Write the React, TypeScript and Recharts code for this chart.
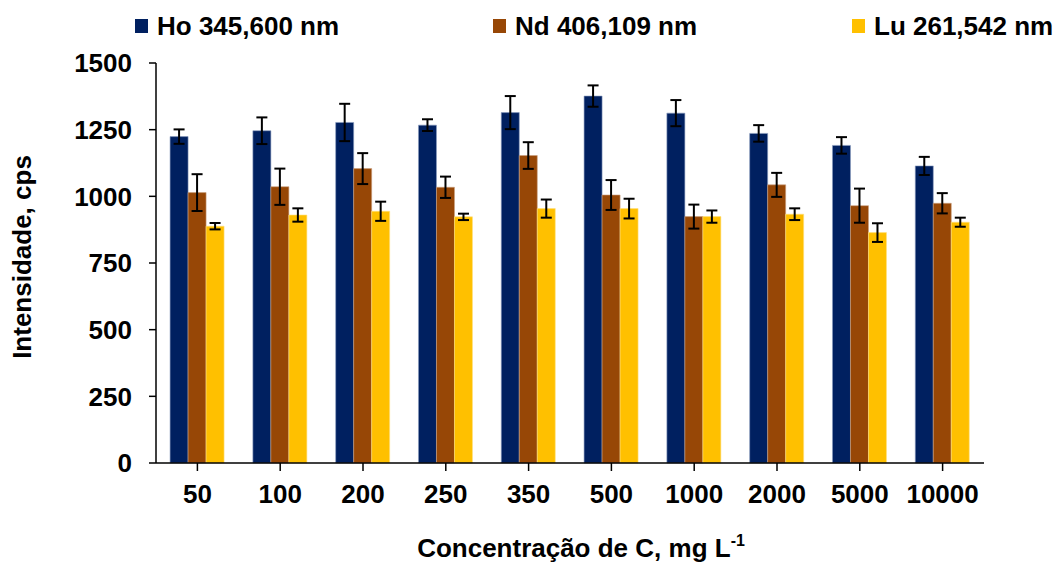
import React from 'react';
import { BarChart, Bar, XAxis, YAxis, ErrorBar, Legend } from 'recharts';

const categories = ['50', '100', '200', '250', '350', '500', '1000', '2000', '5000', '10000'];
const hoValues = [1224, 1246, 1277, 1267, 1314, 1376, 1312, 1236, 1191, 1114];
const hoErrors = [27, 50, 70, 22, 62, 40, 49, 31, 31, 34];
const ndValues = [1014, 1036, 1104, 1034, 1153, 1005, 924, 1043, 965, 974];
const ndErrors = [69, 68, 58, 40, 50, 56, 45, 45, 64, 38];
const luValues = [888, 930, 944, 923, 954, 954, 924, 933, 864, 903];
const luErrors = [12, 25, 36, 12, 34, 37, 23, 22, 35, 17];
const yTicks = [0, 250, 500, 750, 1000, 1250, 1500];

const seriesNames = ['Ho 345,600 nm', 'Nd 406,109 nm', 'Lu 261,542 nm'];
const seriesColors = ['#002060', '#974706', '#FFC000'];

const data = categories.map((c, i) => ({
  cat: c,
  ho: hoValues[i],
  hoErr: hoErrors[i],
  nd: ndValues[i],
  ndErr: ndErrors[i],
  lu: luValues[i],
  luErr: luErrors[i],
}));

const FONT = '"Liberation Sans", Arial, sans-serif';
const legendLefts = [135, 493, 852];

const renderLegend = () => (
  <div style={{ position: 'relative', width: 1054, height: 0, overflow: 'visible', fontFamily: FONT }}>
    {seriesNames.map((n, i) => (
      <div
        key={n}
        style={{
          position: 'absolute',
          left: legendLefts[i],
          top: 0,
          display: 'flex',
          alignItems: 'center',
          whiteSpace: 'nowrap',
        }}
      >
        <span style={{ display: 'inline-block', width: 13, height: 14, background: seriesColors[i], marginRight: 9 }} />
        <span style={{ fontSize: 26, fontWeight: 'bold', color: '#000', lineHeight: '30px' }}>{n}</span>
      </div>
    ))}
  </div>
);

const XTitle = (props: any) => {
  const vb = props.viewBox;
  const x = vb.x + vb.width / 2 + 11;
  const y = vb.y + vb.height - 6;
  return (
    <text x={x} y={y} textAnchor="middle" fontFamily={FONT} fontSize={26} fontWeight="bold" fill="#000">
      <tspan>Concentração de C, mg L</tspan>
      <tspan fontSize={16} dy={-11}>-1</tspan>
    </text>
  );
};

const YTitle = (props: any) => {
  const vb = props.viewBox;
  const x = 31;
  const y = vb.y + vb.height / 2 - 6;
  return (
    <text
      x={x}
      y={y}
      textAnchor="middle"
      fontFamily={FONT}
      fontSize={26}
      fontWeight="bold"
      fill="#000"
      transform={`rotate(-90 ${x} ${y})`}
    >
      Intensidade, cps
    </text>
  );
};

export default function App() {
  return (
    <div style={{ position: 'absolute', left: 0, top: 0, width: 1054, height: 563, background: '#fff' }}>
      <BarChart
        width={1054}
        height={563}
        data={data}
        margin={{ top: 63, right: 70, bottom: 0, left: 0 }}
        barCategoryGap="17%"
        barGap={0}
      >
        <Legend verticalAlign="top" content={renderLegend} wrapperStyle={{ top: 11, left: 0, width: 1054, height: 0 }} />
        <XAxis
          dataKey="cat"
          height={100}
          tickSize={8}
          tickMargin={14}
          interval={0}
          axisLine={{ stroke: '#000', strokeWidth: 1.5 }}
          tickLine={{ stroke: '#000', strokeWidth: 1.5 }}
          tick={{ fill: '#000', fontSize: 26, fontWeight: 'bold', fontFamily: FONT }}
          label={<XTitle />}
        />
        <YAxis
          width={156}
          domain={[0, 1500]}
          ticks={yTicks}
          tickSize={7}
          tickMargin={17}
          interval={0}
          axisLine={{ stroke: '#000', strokeWidth: 1.5 }}
          tickLine={{ stroke: '#000', strokeWidth: 1.5 }}
          tick={{ fill: '#000', fontSize: 26, fontWeight: 'bold', fontFamily: FONT }}
          label={<YTitle />}
        />
        <Bar dataKey="ho" fill={seriesColors[0]} stroke="#8a9cc0" strokeWidth={0.6} isAnimationActive={false}>
          <ErrorBar dataKey="hoErr" width={5.5} stroke="#000" strokeWidth={2} />
        </Bar>
        <Bar dataKey="nd" fill={seriesColors[1]} stroke="#c9a080" strokeWidth={0.6} isAnimationActive={false}>
          <ErrorBar dataKey="ndErr" width={5.5} stroke="#000" strokeWidth={2} />
        </Bar>
        <Bar dataKey="lu" fill={seriesColors[2]} stroke="#ffe080" strokeWidth={0.6} isAnimationActive={false}>
          <ErrorBar dataKey="luErr" width={5.5} stroke="#000" strokeWidth={2} />
        </Bar>
      </BarChart>
    </div>
  );
}
